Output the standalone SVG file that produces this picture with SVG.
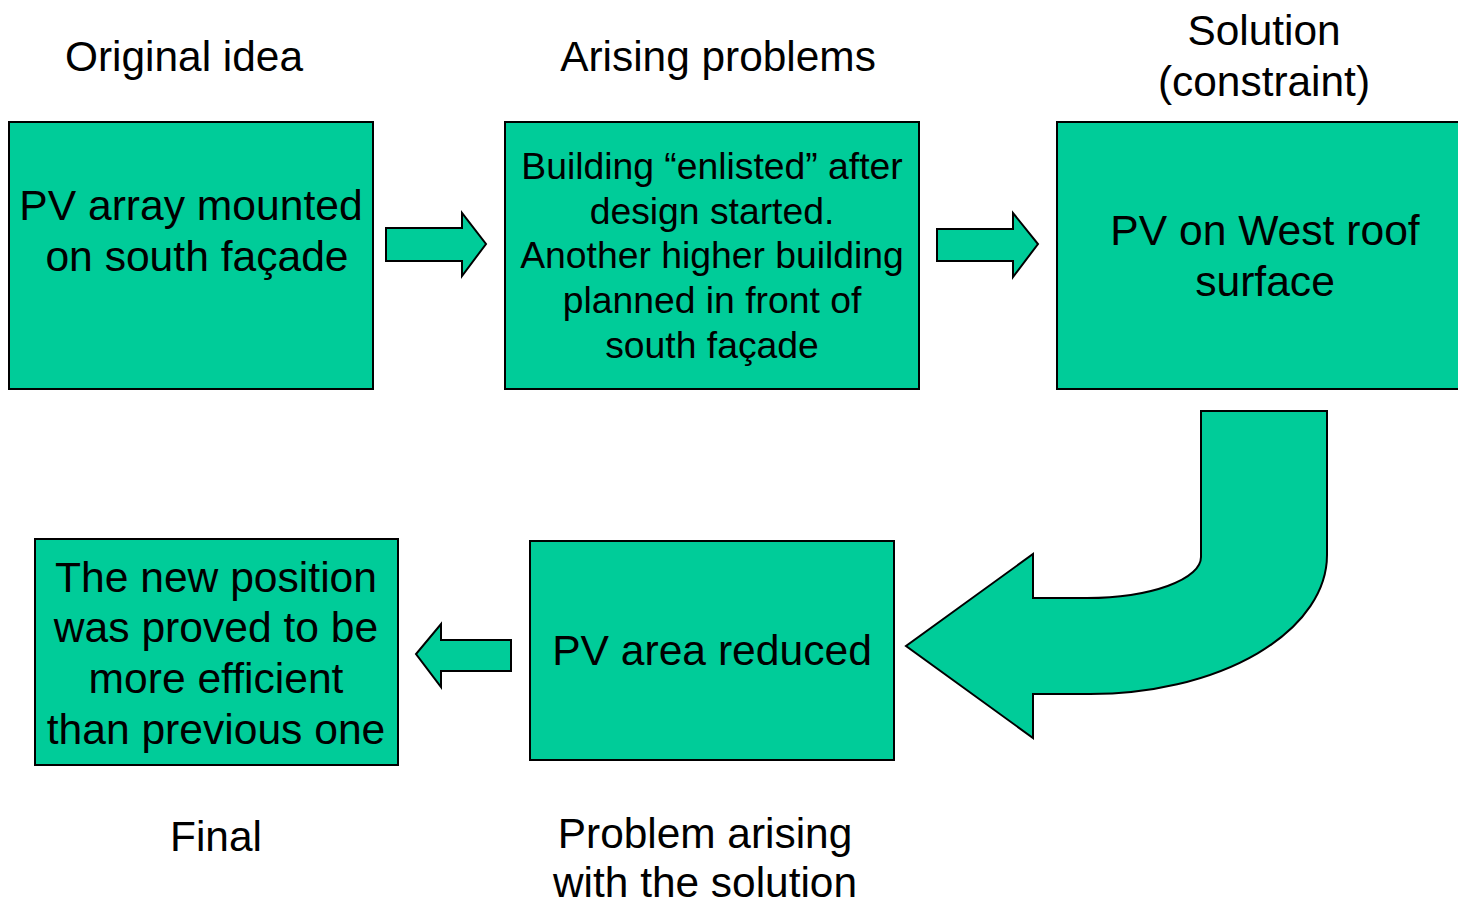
<svg xmlns="http://www.w3.org/2000/svg" width="1458" height="901" viewBox="0 0 1458 901">
<style>
.box{fill:#00CC99;stroke:#000;stroke-width:2}
.arr{fill:#00CC99;stroke:#000;stroke-width:2;stroke-linejoin:miter}
.t{font-family:"Liberation Sans",Arial,sans-serif;fill:#000;text-anchor:middle}
.lg{font-size:42.6px}
.md{font-size:37.3px}
.lb{font-size:42.4px}
</style>
<rect width="1458" height="901" fill="#fff"/>
<g id="labels">
<text class="t lb" x="184" y="71">Original idea</text>
<text class="t lb" x="718" y="71">Arising problems</text>
<text class="t lb" x="1264" y="45">Solution</text>
<text class="t lb" x="1264" y="96">(constraint)</text>
<text class="t lb" x="216" y="851">Final</text>
<text class="t lb" x="705" y="848">Problem arising</text>
<text class="t lb" x="705" y="897">with the solution</text>
</g>
<g id="node-original">
<rect class="box" x="9" y="122" width="364" height="267"/>
<text class="t lg" x="191" y="220">PV array mounted</text>
<text class="t lg" x="197" y="271">on south façade</text>
</g>
<g id="node-problems">
<rect class="box" x="505" y="122" width="414" height="267"/>
<text class="t md" x="712" y="179">Building “enlisted” after</text>
<text class="t md" x="712" y="224">design started.</text>
<text class="t md" x="712" y="268">Another higher building</text>
<text class="t md" x="712" y="313">planned in front of</text>
<text class="t md" x="712" y="358">south façade</text>
</g>
<g id="node-solution">
<rect class="box" x="1057" y="122" width="420" height="267"/>
<text class="t lg" x="1265" y="245">PV on West roof</text>
<text class="t lg" x="1265" y="296">surface</text>
</g>
<g id="node-reduced">
<rect class="box" x="530" y="541" width="364" height="219"/>
<text class="t lg" x="712" y="665">PV area reduced</text>
</g>
<g id="node-final">
<rect class="box" x="35" y="539" width="363" height="226"/>
<text class="t lg" x="216" y="592">The new position</text>
<text class="t lg" x="216" y="642">was proved to be</text>
<text class="t lg" x="216" y="693">more efficient</text>
<text class="t lg" x="216" y="744">than previous one</text>
</g>
<g id="connectors">
<path class="arr" d="M386,228 L462,228 L462,213 L486,244 L462,276 L462,261 L386,261 Z"/>
<path class="arr" d="M937,229 L1013,229 L1013,213 L1038,244 L1013,277 L1013,261 L937,261 Z"/>
<path class="arr" d="M511,640 L441,640 L441,624 L416,654 L441,687 L441,671 L511,671 Z"/>
<path class="arr" stroke-width="1.5" d="M1201,411 L1327,411 L1327,555 A237,139 0 0 1 1090,694 L1033,694 L1033,738 L906,646 L1033,554 L1033,598 L1087,598 A114,41 0 0 0 1201,557 Z"/>
</g>
</svg>
